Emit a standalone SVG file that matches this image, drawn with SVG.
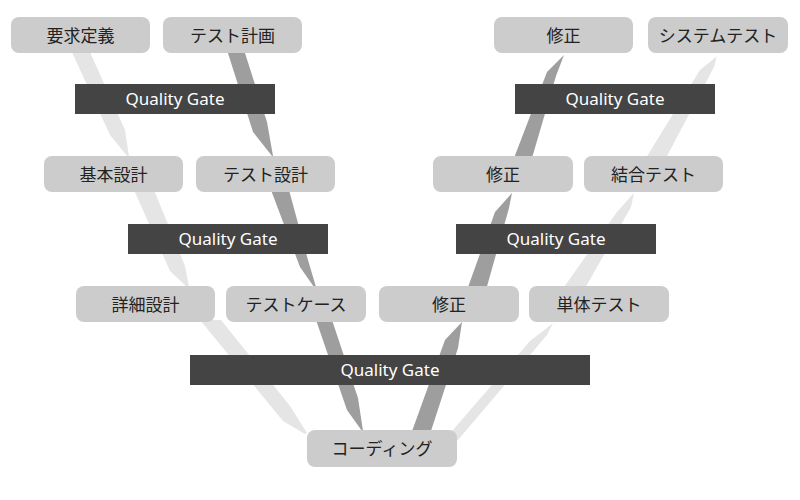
<svg xmlns="http://www.w3.org/2000/svg" width="800" height="500" viewBox="0 0 800 500">
<style>
.n rect{fill:#cccccc}
.n text{fill:#222222;font-family:'Noto Sans','Noto Sans CJK JP',sans-serif;font-size:17px;text-anchor:middle}
.g rect{fill:#444444}
.g text{fill:#ffffff;font-family:'Noto Sans','Noto Sans CJK JP',sans-serif;font-size:17px;text-anchor:middle}
.lt{fill:#e5e5e5}
.dk{fill:#9e9e9e}
</style>
<rect width="800" height="500" fill="#ffffff"/>
<g id="connectors">
<polygon class="lt" points="71,50 89,50 125,130 129,157 128,157 110,135"/>
<polygon class="dk" points="227,50 244,50 267,122 273,156 272,156 253,132"/>
<polygon class="lt" points="134,190 154,190 185,266 189,287 187,287 170,271"/>
<polygon class="dk" points="271,190 289,190 308,260 316,287 314,287 300,267"/>
<polygon class="lt" points="200,320 221,320 290,406 307,433 305,434 283,421"/>
<polygon class="dk" points="316,320 332,320 358,398 363,431 362,431 347,410"/>
<polygon class="dk" points="411,434 445,340 461,323 462,322 458,348 430,434"/>
<polygon class="dk" points="467,290 495,212 511,194 512,193 509,208 486,290"/>
<polygon class="dk" points="514,158 547,72 563,56 564,55 556,76 532,158"/>
<polygon class="lt" points="440,445 530,341 552,324 553,323 547,335 458,440"/>
<polygon class="lt" points="562,290 617,212 633,194 634,193 631,207 584,290"/>
<polygon class="lt" points="646,158 700,70 716,57 717,55 714,67 666,158"/>
</g>
<g id="gate1" class="g"><rect x="75" y="84" width="200" height="30"/><text x="175" y="104.5">Quality Gate</text></g>
<g id="gate2" class="g"><rect x="515" y="84" width="200" height="30"/><text x="615" y="104.5">Quality Gate</text></g>
<g id="gate3" class="g"><rect x="128" y="224" width="200" height="30"/><text x="228" y="244.5">Quality Gate</text></g>
<g id="gate4" class="g"><rect x="456" y="224" width="200" height="30"/><text x="556" y="244.5">Quality Gate</text></g>
<g id="gate5" class="g"><rect x="190" y="355" width="400" height="30"/><text x="390" y="375.5">Quality Gate</text></g>
<g id="youkyuu" class="n"><rect x="11" y="17" width="139" height="36" rx="8"/><text x="80.5" y="41.5">要求定義</text></g>
<g id="testkeikaku" class="n"><rect x="163" y="17" width="139" height="36" rx="8"/><text x="232.5" y="41.5">テスト計画</text></g>
<g id="shusei1" class="n"><rect x="494" y="17" width="139" height="36" rx="8"/><text x="563.5" y="41.5">修正</text></g>
<g id="systemtest" class="n"><rect x="648" y="17" width="140" height="36" rx="8"/><text x="718" y="41.5">システムテスト</text></g>
<g id="kihon" class="n"><rect x="44" y="156" width="139" height="36" rx="8"/><text x="113.5" y="180.5">基本設計</text></g>
<g id="testsekkei" class="n"><rect x="196" y="156" width="139" height="36" rx="8"/><text x="265.5" y="180.5">テスト設計</text></g>
<g id="shusei2" class="n"><rect x="433" y="156" width="140" height="36" rx="8"/><text x="503" y="180.5">修正</text></g>
<g id="ketsugou" class="n"><rect x="584" y="156" width="139" height="36" rx="8"/><text x="653.5" y="180.5">結合テスト</text></g>
<g id="shousai" class="n"><rect x="76" y="286" width="139" height="36" rx="8"/><text x="145.5" y="310.5">詳細設計</text></g>
<g id="testcase" class="n"><rect x="226" y="286" width="140" height="36" rx="8"/><text x="296" y="310.5">テストケース</text></g>
<g id="shusei3" class="n"><rect x="379" y="286" width="140" height="36" rx="8"/><text x="449" y="310.5">修正</text></g>
<g id="tantai" class="n"><rect x="529" y="286" width="140" height="36" rx="8"/><text x="599" y="310.5">単体テスト</text></g>
<g id="coding" class="n"><rect x="307" y="430" width="150" height="37" rx="8"/><text x="382" y="454.5">コーディング</text></g>
</svg>
